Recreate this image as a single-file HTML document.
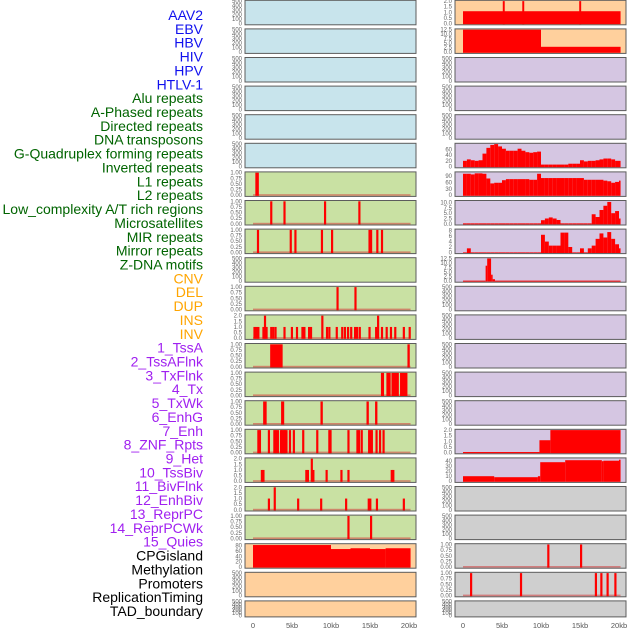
<!DOCTYPE html>
<html><head><meta charset="utf-8"><style>
html,body{margin:0;padding:0;background:#fff;width:630px;height:630px;overflow:hidden}
svg{display:block;font-family:"Liberation Sans",sans-serif}
</style></head><body>
<svg id="chart" width="630" height="630" viewBox="0 0 630 630"></svg>
<script>
// ---- data ----
const trackLabels = ["AAV2","EBV","HBV","HIV","HPV","HTLV-1","Alu repeats","A-Phased repeats","Directed repeats","DNA transposons","G-Quadruplex forming repeats","Inverted repeats","L1 repeats","L2 repeats","Low_complexity A/T rich regions","Microsatellites","MIR repeats","Mirror repeats","Z-DNA motifs","CNV","DEL","DUP","INS","INV","1_TssA","2_TssAFlnk","3_TxFlnk","4_Tx","5_TxWk","6_EnhG","7_Enh","8_ZNF_Rpts","9_Het","10_TssBiv","11_BivFlnk","12_EnhBiv","13_ReprPC","14_ReprPCWk","15_Quies","CPGisland","Methylation","Promoters","ReplicationTiming","TAD_boundary"];
const labelGroups = [6,13,5,15,5];
const xTickValues = [0,5,10,15,20];
const xTickLabels = ["0","5kb","10kb","15kb","20kb"];

const L7pos=[0.3], L7val=[1];
const L8pos=[2.2,3.9,9.1,13.5], L8val=[1,1,1,1];
const L9pos=[0.5,4.7,5.3,8.7,10.0,14.8,15.0,15.8,16.4], L9val=[1,1,1,1,1,1,1,1,1];
const L11pos=[10.7,13.0], L11val=[1,1];
const L12pos=[0.05,0.3,0.55,1.2,1.4,1.6,2.2,2.45,2.75,3.9,4.85,5.5,6.2,6.45,7.05,7.3,8.75,9.35,9.65,10.6,11.3,11.65,12.05,12.45,12.95,13.2,13.55,14.8,15.65,15.9,16.4,17.0,17.55,18.1,19.2,19.95];
const L12val=[1,1,1,1,2,1,1,1,1,1,1,1,1,1,1,1,2,1,1,1,1,1,1,1,1,1,1,1,1,2,1,1,1,1,1,1];
const L13seg=[[2.2,3.8,1],[19.8,20.1,1]];
const L14seg=[[16.4,16.8,1],[17.1,17.65,1],[17.75,18.7,1],[18.85,19.8,1]];
const L15seg=[[1.3,1.75,1],[3.6,4.0,1],[8.65,8.95,1],[14.55,14.85,1],[15.65,15.95,1]];
const L16pos=[0.55,0.75,1.9,2.6,2.8,3.05,3.45,3.6,3.8,3.95,4.15,4.6,5.1,6.3,8.1,9.65,9.8,12.1,13.25,13.45,13.8,14.75,14.95,15.1,15.7,16.15,16.6];
const L16val=L16pos.map(()=>1);
const L17pos=[1.0,1.2,6.7,6.9,7.4,7.6,9.3,11.2,12.1,17.65,17.85], L17val=[1,1,1,1,2,1,1,1,1,1,1];
const L18pos=[1.9,2.65,5.65,8.6,11.8,14.7,14.9,15.75,19.2], L18val=[1,2,1,1,1,1,1,1,1];
const L19pos=[12.1,15.0], L19val=[1,1];
const L20seg=[[0,10,82],[10,12.5,67],[12.5,15,70],[15,17,67],[17,20.2,70]];

const R1seg=[[0,20.2,1.1]], R1pos=[5.1,7.6,14.9], R1val=[2,2,2];
const R2seg=[[0,10,12.5],[10,20.2,3]];
const R6bins=[20,25,22,20,22,45,65,75,78,70,62,55,55,55,62,55,50,48,50,52,7,7,7,7,7,7,7,10,10,10,22,18,20,20,22,25,28,28,25,20,20];
const R7bins=[100,100,97,102,102,100,78,55,58,58,70,75,75,75,75,75,75,72,72,100,80,80,80,80,80,80,80,80,80,80,80,72,72,72,72,72,68,65,58,62,68];
const R8bins=[0.2,0.2,0.2,0.2,0.2,0.2,0.2,0.2,0.2,0.2,0.2,0.2,0.2,0.2,0.2,0.2,0.2,0.2,0.2,0.2,1.7,2.5,3.0,2.5,1.8,0.2,0.2,0.2,0.2,0.2,0.2,0.2,0.2,4.5,3.2,6.5,8.5,10.3,5,6,2.5];
const R9bins=[0,1.5,0,0,0,0,0,0,0,0,0,0,0,0,0,0,0,0,0,0,6.5,4,2.5,2.5,2.5,7.3,7.3,2,0,0,1.5,0,1.5,2.5,5,7,5.5,7.5,5,3,1.5];
const R10seg=[[0,2.9,0.2],[2.9,3.1,8.5],[3.1,3.6,12.5],[3.6,3.8,3.5],[3.8,4.1,1],[4.1,20.2,0.2]];
const R16seg=[[0,9.8,0.05],[9.8,11.2,1.1],[11.2,20.2,2]];
const R17seg=[[0,4,10],[4,9.6,8],[9.6,9.9,10],[9.9,13.1,38],[13.1,17.8,42],[17.8,18,40],[18,20,41],[20,20.2,43]];
const R20pos=[10.8,15.0], R20val=[1,1];
const R21pos=[0.9,7.3,16.9,17.6,18.4,19.4], R21val=[1,1,1,1,1,1];

// ---- layout ----
const svg=document.getElementById('chart');
const NS='http://www.w3.org/2000/svg';
const COL={blue:'#c8e4ec',green:'#c9e1a3',orange:'#ffd09d',purple:'#d5c6e2',grey:'#cfcfcf'};
const panelX=[245,455], panelW=171, rowStep=28.6, rowTop=0.3;
function xs(col,kb){return panelX[col]+8+kb*7.8;}
function el(tag,attrs,parent){const e=document.createElementNS(NS,tag);for(const k in attrs)e.setAttribute(k,attrs[k]);(parent||svg).appendChild(e);return e;}
function spikes(pos,val,w){return pos.map((p,i)=>[p,p+(w||0.28),val[i]]);}
function bins(arr){return arr.map((v,i)=>[i*0.5,Math.min(i*0.5+0.5,20.2),v]);}
const T500={ymax:500,ticks:[0,100,200,300,400,500],dec:0};
const T1={ymax:1,ticks:[0,0.25,0.5,0.75,1],dec:2};
const T2={ymax:2,ticks:[0,0.5,1,1.5,2],dec:1};
const T125={ymax:12.5,ticks:[0,2.5,5,7.5,10,12.5],dec:1};

const left=[
 {bg:'blue',...T500},{bg:'blue',...T500},{bg:'blue',...T500},{bg:'blue',...T500},{bg:'blue',...T500},{bg:'blue',...T500},
 {bg:'green',...T1,segs:spikes(L7pos,L7val,0.45),base:1},
 {bg:'green',...T1,segs:spikes(L8pos,L8val),base:1},
 {bg:'green',...T1,segs:spikes(L9pos,L9val),base:1},
 {bg:'green',...T500},
 {bg:'green',...T1,segs:spikes(L11pos,L11val),base:1},
 {bg:'green',...T2,segs:spikes(L12pos,L12val),base:1},
 {bg:'green',...T1,segs:L13seg,base:1},
 {bg:'green',...T1,segs:L14seg,base:1},
 {bg:'green',...T1,segs:L15seg,base:1},
 {bg:'green',...T1,segs:spikes(L16pos,L16val),base:1},
 {bg:'green',...T2,segs:spikes(L17pos,L17val),base:1},
 {bg:'green',...T2,segs:spikes(L18pos,L18val),base:1},
 {bg:'green',...T1,segs:spikes(L19pos,L19val),base:1},
 {bg:'orange',ymax:84,ticks:[0,20,40,60,80],dec:0,segs:L20seg},
 {bg:'orange',...T500},{bg:'orange',...T500}
];
const right=[
 {bg:'orange',...T2,segs:R1seg.concat(spikes(R1pos,R1val,0.25))},
 {bg:'orange',...T125,segs:R2seg},
 {bg:'purple',...T500},{bg:'purple',...T500},{bg:'purple',...T500},
 {bg:'purple',ymax:78,ticks:[0,20,40,60],dec:0,segs:bins(R6bins)},
 {bg:'purple',ymax:105,ticks:[0,30,60,90],dec:0,segs:bins(R7bins)},
 {bg:'purple',ymax:10.6,ticks:[0,2.5,5,7.5,10],dec:1,segs:bins(R8bins)},
 {bg:'purple',ymax:8.3,ticks:[0,2,4,6,8],dec:0,segs:bins(R9bins)},
 {bg:'purple',...T125,segs:R10seg},
 {bg:'purple',...T500},{bg:'purple',...T500},{bg:'purple',...T500},{bg:'purple',...T500},{bg:'purple',...T500},
 {bg:'purple',...T2,segs:R16seg},
 {bg:'purple',ymax:45,ticks:[0,10,20,30,40],dec:0,segs:R17seg},
 {bg:'grey',...T500},{bg:'grey',...T500},
 {bg:'grey',...T1,segs:spikes(R20pos,R20val),base:1},
 {bg:'grey',...T1,segs:spikes(R21pos,R21val),base:1},
 {bg:'grey',...T500}
];

const labelColors=['#1010ee','#006400','#ffa500','#a020f0','#000000'];
let li=0;
labelGroups.forEach((n,g)=>{for(let k=0;k<n;k++,li++){
  const t=el('text',{x:203,y:15+13.86*li+5,'text-anchor':'end','font-size':'14',fill:labelColors[g]});
  t.textContent=trackLabels[li];
  
  
}});

function drawPanel(col,row,cfg){
  const top=rowTop+row*rowStep, ph=(row===21?16:24.5), bottom=top+ph, x0=panelX[col];
  const g=el('g',{});
  
  
  el('rect',{x:x0,y:top,width:panelW,height:ph,fill:COL[cfg.bg],stroke:'#5c5c5c','stroke-width':1},g);
  const ys=v=>bottom-1.2-(v/cfg.ymax)*(ph-2);
  cfg.ticks.forEach(t=>{
    const tl=el('text',{x:x0-3,y:ys(t)+2,'text-anchor':'end','font-size':'6',fill:'#666'},g);
    tl.textContent=t.toFixed(cfg.dec);
    
    
  });
  if(cfg.base){
    const b=el('rect',{x:xs(col,0),y:ys(0)-1,width:xs(col,20.2)-xs(col,0),height:1.6,fill:'rgba(210,60,60,0.55)'},g);
    
    
  }
  (cfg.segs||[]).forEach(s=>{
    const xa=xs(col,s[0]), xb=xs(col,s[1]), y=ys(s[2]);
    const r=el('rect',{x:xa,y:y,width:Math.max(xb-xa,1.5),height:ys(0)-y+0.6,fill:'#ff0000'},g);
    
    
  });
}
left.forEach((c,i)=>drawPanel(0,i,c));
right.forEach((c,i)=>drawPanel(1,i,c));

[0,1].forEach(col=>{
  xTickValues.forEach((v,i)=>{
    const t=el('text',{x:xs(col,v),y:628,'text-anchor':'middle','font-size':'7.5',fill:'#555'});
    t.textContent=xTickLabels[i];
    
    
  });
});
</script>
</body></html>
